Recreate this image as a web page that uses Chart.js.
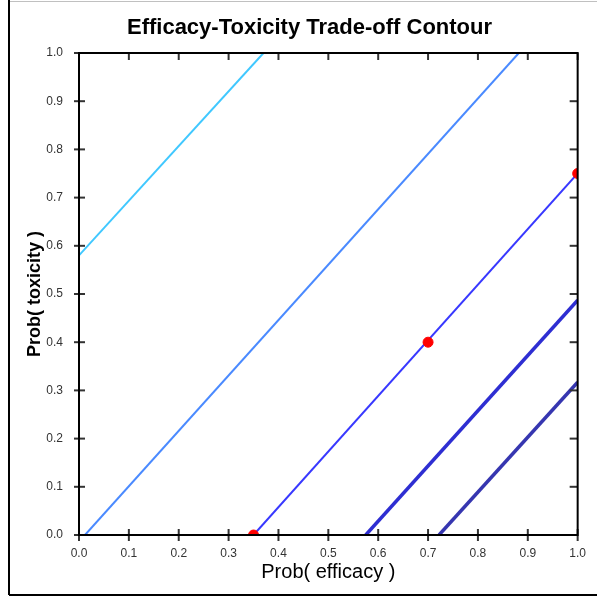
<!DOCTYPE html>
<html>
<head>
<meta charset="utf-8">
<script src="https://cdn.jsdelivr.net/npm/chart.js@4.4.1/dist/chart.umd.min.js"></script>
<style>
  body { margin: 0; background: #fff; }
  #wrap { width: 597px; height: 598px; }
</style>
</head>
<body>
<div id="wrap"><canvas id="contour" width="597" height="598"></canvas></div>
<script>
// contour lines, each given by its two end points (x = Prob(efficacy), y = Prob(toxicity))
const line1X = [0.0, 0.37];
const line1Y = [0.58, 1.0];
const line2X = [0.012, 0.882];
const line2Y = [0.0, 1.0];
const line3X = [0.35, 1.0];
const line3Y = [0.0, 0.75];
const line4X = [0.575, 1.0];
const line4Y = [0.0, 0.487];
const line5X = [0.722, 1.0];
const line5Y = [0.0, 0.317];
// red marked points
const pointX = [0.35, 0.7, 1.0];
const pointY = [0.0, 0.4, 0.75];
// tick labels (same on both axes)
const tickValues = [0.0, 0.1, 0.2, 0.3, 0.4, 0.5, 0.6, 0.7, 0.8, 0.9, 1.0];

const FONT = "'Liberation Sans', Arial, sans-serif";
const pts = (xs, ys) => xs.map((v, i) => ({ x: v, y: ys[i] }));

// outer border, axis box and tick marks that cross / point inward
const framePlugin = {
    id: 'frame',
    afterDraw(chart) {
        const { ctx, chartArea: a, scales: { x, y } } = chart;
        const seg = (x1, y1, x2, y2) => { ctx.beginPath(); ctx.moveTo(x1, y1); ctx.lineTo(x2, y2); ctx.stroke(); };
        ctx.save();
        // outer frame
        ctx.strokeStyle = '#c0c0c0';
        ctx.lineWidth = 1;
        seg(9, 1.5, 597, 1.5);
        ctx.strokeStyle = '#000';
        ctx.lineWidth = 2;
        seg(9, 0, 9, 595);
        seg(9, 595, 597, 595);
        // tick marks
        ctx.strokeStyle = '#333';
        ctx.lineWidth = 2;
        tickValues.forEach(v => {
            const px = x.getPixelForValue(v);
            seg(px, a.bottom - 6, px, a.bottom + 6);
            seg(px, a.top, px, a.top + 7);
            const py = y.getPixelForValue(v);
            seg(a.left - 5, py, a.left + 6, py);
            seg(a.right - 8, py, a.right, py);
        });
        // axis box
        ctx.strokeStyle = '#000';
        ctx.lineWidth = 2;
        ctx.strokeRect(a.left, a.top, a.right - a.left, a.bottom - a.top);
        ctx.restore();
    }
};

const ctx = document.getElementById('contour').getContext('2d');
new Chart(ctx, {
    type: 'scatter',
    data: {
        datasets: [
            {
                data: pts(pointX, pointY),
                showLine: false,
                pointRadius: 5,
                pointBackgroundColor: '#ff0000',
                pointBorderColor: '#ff0000',
                clip: 0
            },
            { data: pts(line1X, line1Y), showLine: true, borderColor: '#40c8ff', borderWidth: 2, pointRadius: 0 },
            { data: pts(line2X, line2Y), showLine: true, borderColor: '#4a8aff', borderWidth: 2, pointRadius: 0 },
            { data: pts(line3X, line3Y), showLine: true, borderColor: '#3838ff', borderWidth: 2, pointRadius: 0 },
            { data: pts(line4X, line4Y), showLine: true, borderColor: '#2e2ed2', borderWidth: 3.5, pointRadius: 0 },
            { data: pts(line5X, line5Y), showLine: true, borderColor: '#3636b0', borderWidth: 3.5, pointRadius: 0 }
        ]
    },
    options: {
        responsive: false,
        animation: false,
        // left padding pushes the centred title right, as in the original
        layout: { padding: { left: 40, right: 18, top: 0, bottom: 0 } },
        scales: {
            x: {
                type: 'linear',
                min: 0, max: 1,
                afterFit: (scale) => { scale.height = 63; },
                grid: { display: false, drawTicks: false },
                border: { display: false },
                ticks: {
                    stepSize: 0.1,
                    padding: 11,
                    color: '#333',
                    font: { family: FONT, size: 12 },
                    callback: (v) => v.toFixed(1)
                },
                title: {
                    display: true,
                    text: 'Prob( efficacy )',
                    color: '#000',
                    font: { family: FONT, size: 20 },
                    padding: { top: 0, bottom: 14 }
                }
            },
            y: {
                type: 'linear',
                min: 0, max: 1,
                afterFit: (scale) => { scale.width = 39; },
                grid: { display: false, drawTicks: false },
                border: { display: false },
                ticks: {
                    stepSize: 0.1,
                    padding: 16,
                    color: '#333',
                    font: { family: FONT, size: 12 },
                    callback: (v) => v.toFixed(1)
                },
                title: {
                    display: true,
                    text: 'Prob( toxicity )',
                    color: '#000',
                    font: { family: FONT, size: 18, weight: 'bold' },
                    padding: { top: -16, bottom: 0 }
                }
            }
        },
        plugins: {
            legend: { display: false },
            tooltip: { enabled: false },
            title: {
                display: true,
                text: 'Efficacy-Toxicity Trade-off Contour',
                color: '#000',
                font: { family: FONT, size: 22, weight: 'bold' },
                padding: { top: 15, bottom: 11.6 }
            }
        }
    },
    plugins: [framePlugin]
});
</script>
</body>
</html>
